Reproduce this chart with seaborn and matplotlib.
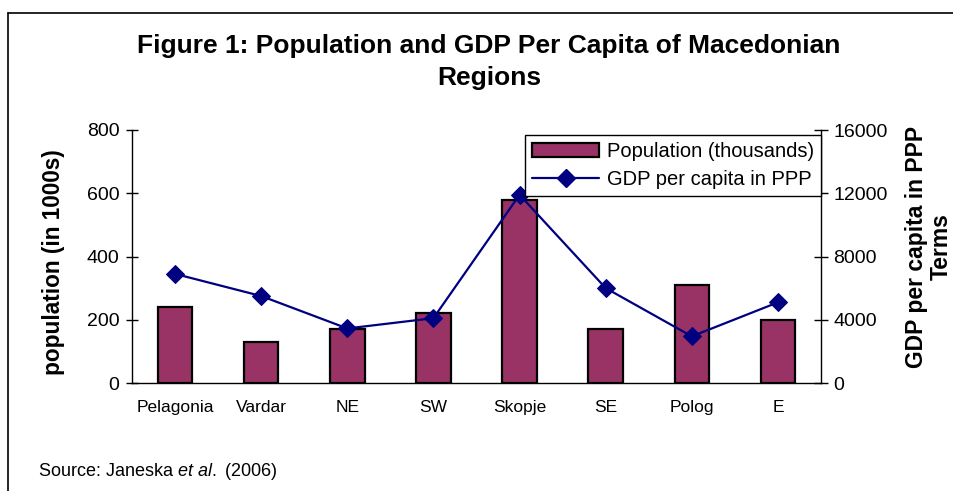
import matplotlib
matplotlib.use("Agg")
import matplotlib.pyplot as plt
import seaborn as sns
from matplotlib.lines import Line2D
from matplotlib.patches import Patch

regions = ["Pelagonia", "Vardar", "NE", "SW", "Skopje", "SE", "Polog", "E"]
population = [240, 130, 170, 220, 580, 170, 310, 200]
gdp_ppp = [6900, 5500, 3450, 4100, 11900, 6000, 2950, 5100]

bar_color = "#993366"
line_color = "#000080"

sns.set_style("white")
plt.rcParams["font.family"] = ["Liberation Sans", "DejaVu Sans"]
plt.rcParams["mathtext.fontset"] = "custom"
plt.rcParams["mathtext.it"] = "Liberation Sans:italic"
plt.rcParams["mathtext.rm"] = "Liberation Sans"
plt.rcParams["text.color"] = "black"
plt.rcParams["axes.labelcolor"] = "black"
plt.rcParams["xtick.color"] = "black"
plt.rcParams["ytick.color"] = "black"

W, H = 954, 491
fig = plt.figure(figsize=(W / 100, H / 100), dpi=100)
ax = fig.add_axes([132 / W, 1 - 383 / H, (821 - 132) / W, (383 - 130) / H])

sns.barplot(x=regions, y=population, color=bar_color, width=0.4,
            edgecolor="black", linewidth=1.6, saturation=1, ax=ax)
ax.set_ylim(0, 800)
ax.set_yticks([0, 200, 400, 600, 800])
ax.set_xlim(-0.5, len(regions) - 0.5)

ax2 = ax.twinx()
sns.lineplot(x=regions, y=gdp_ppp, color=line_color, marker="D", markersize=9,
             markeredgecolor=line_color, linewidth=1.6, sort=False, ax=ax2)
ax2.set_ylim(0, 16000)
ax2.set_yticks([0, 4000, 8000, 12000, 16000])
ax2.set_xlim(-0.5, len(regions) - 0.5)

for a in (ax, ax2):
    for side in ("left", "right", "bottom"):
        a.spines[side].set_color("black")
        a.spines[side].set_linewidth(1.0)
    a.spines["top"].set_visible(False)
    a.grid(False)
ax.spines["right"].set_visible(False)
ax2.spines["left"].set_visible(False)
ax2.spines["bottom"].set_visible(False)

ax.tick_params(axis="y", direction="inout", length=8, width=1, labelsize=14, pad=5)
ax2.tick_params(axis="y", direction="inout", length=10, width=1, labelsize=14, pad=4)
ax.tick_params(axis="x", which="major", length=0, labelsize=12.5, pad=12)
ax.set_xticks([i + 0.5 for i in range(-1, len(regions))], minor=True)
ax.tick_params(axis="x", which="minor", direction="inout", length=10, width=1)
ax.set_xlabel("")

ax.set_ylabel("population (in 1000s)", fontsize=16.3, fontweight="bold")
ax.yaxis.set_label_coords(-78 / 689, (383 - 262) / 253)
ax2.set_ylabel("GDP per capita in PPP\nTerms", fontsize=16.5, fontweight="bold",
               rotation=90, linespacing=1.1)
ax2.yaxis.set_label_coords((929 - 132) / 689, (383 - 247) / 253)
ax2.yaxis.label.set_verticalalignment("center")
ax2.yaxis.label.set_horizontalalignment("center")
ax.yaxis.label.set_verticalalignment("center")

fig.text(489 / W, 1 - 62 / H,
         "Figure 1: Population and GDP Per Capita of Macedonian\nRegions",
         ha="center", va="center", fontsize=19, fontweight="bold", linespacing=1.45)

handles = [Patch(facecolor=bar_color, edgecolor="black", linewidth=1.6),
           Line2D([0], [0], color=line_color, marker="D", markersize=9, linewidth=1.6)]
leg = ax2.legend(handles, ["Population (thousands)", "GDP per capita in PPP"],
                 loc="upper right", bbox_to_anchor=(1.0, 1 - 5 / 253), fontsize=14.5,
                 frameon=True, fancybox=False, edgecolor="black", framealpha=1,
                 borderpad=0.35, labelspacing=0.45, handlelength=3.3,
                 handletextpad=0.4, borderaxespad=0)
leg.get_frame().set_linewidth(1.0)

fig.text(38 / W, 1 - 476 / H, r"Source: Janeska $\it{et\ al.}$ (2006)",
         ha="left", va="baseline", fontsize=13)

fig.add_artist(Line2D([8 / W, 8 / W], [0, 1 - 13 / H], transform=fig.transFigure,
                      color="black", linewidth=1.2))
fig.add_artist(Line2D([8 / W, 1], [1 - 13 / H, 1 - 13 / H], transform=fig.transFigure,
                      color="black", linewidth=1.2))

fig.savefig("out.png", dpi=100)
